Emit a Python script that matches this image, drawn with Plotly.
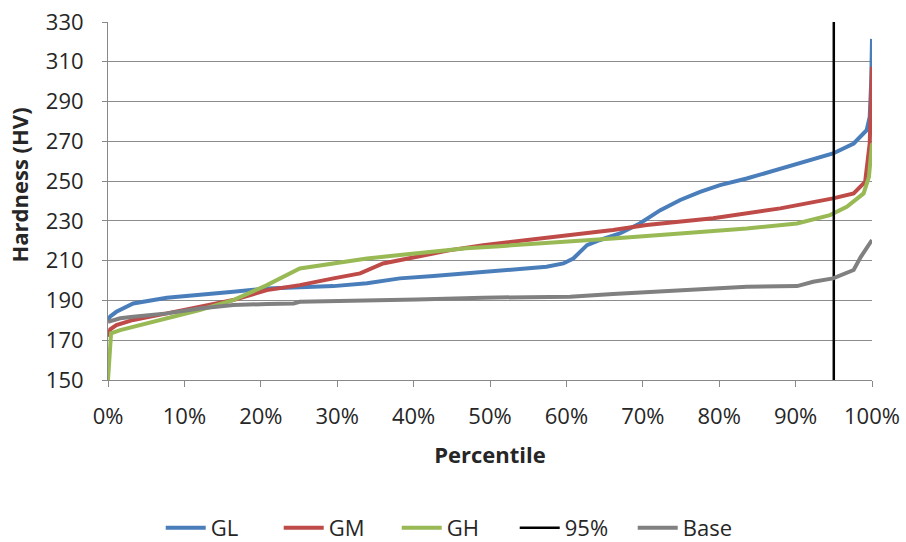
import plotly.graph_objects as go

# Percentile positions (%) and hardness values (HV) for each condition
gl_pct = [0, 0.3, 1.1, 3.3, 7.7, 12.0, 16.4, 20.8, 25.1, 29.5, 33.9, 38.2, 42.6, 46.9,
          51.3, 55.0, 57.4, 59.6, 60.9, 62.7, 64.4, 67.0, 69.6, 72.3, 74.9, 77.5, 80.1,
          83.6, 88.0, 92.3, 94.9, 97.6, 99.3, 99.7, 99.9, 100]
gl_hv = [180, 182, 184.3, 188.5, 191.4, 192.7, 194.4, 196.0, 196.6, 197.2, 198.6, 201.1,
         202.3, 203.6, 204.8, 205.8, 206.9, 208.6, 211.1, 217.8, 220.4, 223.7, 228.7,
         235.4, 240.5, 244.6, 248.0, 251.3, 256.4, 261.4, 263.9, 268.9, 275.6, 282.3,
         300.0, 321.5]

gm_pct = [0, 0.3, 1.1, 3.3, 7.7, 12.0, 16.4, 20.8, 25.1, 29.5, 33.0, 36.0, 40.4, 44.8,
          49.1, 53.0, 57.4, 66.1, 70.5, 79.2, 88.0, 94.9, 97.6, 99.1, 99.7, 100]
gm_hv = [171.8, 175.5, 177.6, 180.2, 183.5, 186.8, 190.2, 195.2, 197.7, 201.1, 203.6,
         208.6, 212.0, 215.3, 217.8, 219.5, 221.2, 225.4, 227.9, 231.3, 236.3, 241.3,
         243.8, 249.6, 268.9, 307.5]

gh_pct = [0, 0.2, 0.4, 1.6, 3.3, 7.7, 12.0, 16.4, 20.8, 25.1, 29.5, 33.9, 38.2, 42.6,
          46.9, 51.3, 57.4, 66.1, 74.9, 83.6, 90.2, 94.5, 96.7, 98.9, 99.6, 100]
gh_hv = [150.0, 165.0, 173.5, 175.1, 176.8, 181.0, 185.2, 190.2, 197.7, 206.1, 208.6,
         211.1, 212.8, 214.5, 216.2, 217.3, 218.7, 221.2, 223.7, 226.2, 228.7, 232.9,
         237.1, 243.8, 252.2, 268.9]

base_pct = [0, 1.6, 3.3, 7.7, 12.0, 16.4, 20.8, 24.3, 25.1, 33.9, 40.4, 49.1, 60.5,
            66.1, 74.9, 83.6, 90.2, 92.3, 94.9, 97.6, 98.5, 100]
base_hv = [179.3, 181.0, 181.8, 183.5, 186.0, 187.7, 188.2, 188.5, 189.3, 189.7, 190.5,
           191.4, 191.9, 193.2, 195.2, 196.9, 197.2, 199.4, 201.1, 205.3, 211.7, 220.4]

ref_pct = [95, 95]
ref_hv = [150, 330]

y_ticks = [150, 170, 190, 210, 230, 250, 270, 290, 310, 330]
x_ticks = [0, 10, 20, 30, 40, 50, 60, 70, 80, 90, 100]

font_family = "Open Sans, Liberation Sans, sans-serif"
text_color = "#262626"

fig = go.Figure()
fig.add_trace(go.Scatter(x=gl_pct, y=gl_hv, mode="lines", name="GL",
                         line=dict(color="#4a7ebb", width=4)))
fig.add_trace(go.Scatter(x=gm_pct, y=gm_hv, mode="lines", name="GM",
                         line=dict(color="#be4b48", width=4)))
fig.add_trace(go.Scatter(x=gh_pct, y=gh_hv, mode="lines", name="GH",
                         line=dict(color="#98b954", width=4)))
fig.add_trace(go.Scatter(x=ref_pct, y=ref_hv, mode="lines", name="95%",
                         line=dict(color="#000000", width=2.5)))
fig.add_trace(go.Scatter(x=base_pct, y=base_hv, mode="lines", name="Base",
                         line=dict(color="#808080", width=4)))

fig.update_layout(
    width=906, height=542,
    margin=dict(l=108, r=34, t=22, b=162, autoexpand=False),
    paper_bgcolor="white", plot_bgcolor="white",
    font=dict(family=font_family, size=22, color=text_color),
    showlegend=True,
    legend=dict(orientation="h", xref="container", yref="container",
                x=0.503, xanchor="center", y=0.026, yanchor="middle",
                font=dict(size=22), traceorder="normal", itemwidth=40,
                entrywidth=63, entrywidthmode="pixels"),
    annotations=[dict(
        text="<b>Hardness (HV)</b>", textangle=-90, showarrow=False,
        xref="paper", yref="paper", x=-0.117, y=0.545,
        xanchor="center", yanchor="middle", font=dict(size=22),
    )],
)

fig.update_xaxes(
    range=[0, 100], tickvals=x_ticks, ticktext=[f"{v}%" for v in x_ticks],
    showgrid=False, zeroline=False, automargin=False,
    showline=True, linecolor="#888888", linewidth=1,
    ticks="outside", ticklen=6, tickcolor="#888888", ticklabelstandoff=11,
    title=dict(text="<b>Percentile</b>", font=dict(size=22), standoff=18),
)
fig.update_yaxes(
    range=[150, 330], tickvals=y_ticks,
    showgrid=True, gridcolor="#8c8c8c", gridwidth=1,
    zeroline=False, automargin=False,
    showline=True, linecolor="#888888", linewidth=1,
    ticks="outside", ticklen=5, tickcolor="#888888", ticklabelstandoff=14,
)

fig.write_html("out.html")
